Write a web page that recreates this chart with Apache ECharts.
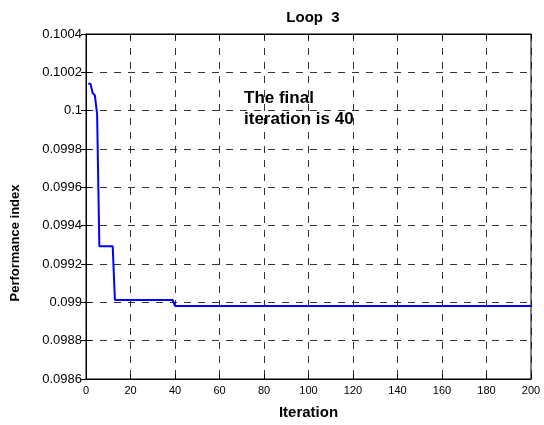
<!DOCTYPE html>
<html>
<head>
<meta charset="utf-8">
<script src="https://cdn.jsdelivr.net/npm/echarts@6/dist/echarts.min.js"></script>
<style>html,body{margin:0;padding:0;background:#fff}#c{width:544px;height:425px}</style>
</head>
<body>
<div id="c"></div>
<script>
var titleText = 'Loop  3';
var xLabel = 'Iteration';
var yLabel = 'Performance index';
var noteText = 'The final\niteration is 40';
var iterations = [1, 2, 3, 4, 5, 6, 12, 13, 39, 40, 200];
var values = [0.100141, 0.100141, 0.100092, 0.100080, 0.099980, 0.099293, 0.099293, 0.099012, 0.099012, 0.098981, 0.098981];
var xTicks = [0, 20, 40, 60, 80, 100, 120, 140, 160, 180, 200];
var yTicks = [0.0986, 0.0988, 0.099, 0.0992, 0.0994, 0.0996, 0.0998, 0.1, 0.1002, 0.1004];

var pts = iterations.map(function (x, i) { return [x, values[i]]; });
var fontF = 'Liberation Sans, Arial, sans-serif';
var gridStyle = { show: true, lineStyle: { color: '#111', type: [7, 7], width: 1, opacity: 0.85 } };
function fmtY(v) {
  var r = Math.round(v * 10000) / 10000;
  return String(r);
}
var chart = echarts.init(document.getElementById('c'));
chart.setOption({
  animation: false,
  backgroundColor: '#fff',
  title: { text: titleText, left: 308, textAlign: 'center', top: 5,
    textStyle: { fontFamily: fontF, fontSize: 15, fontWeight: 'bold', color: '#000' } },
  grid: { left: 86, right: 13, top: 34, bottom: 41, show: true, borderColor: '#000', borderWidth: 1 },
  xAxis: [{
    type: 'value', min: xTicks[0], max: xTicks[xTicks.length - 1], interval: 20,
    name: xLabel, nameLocation: 'middle', nameGap: 26,
    nameTextStyle: { fontFamily: fontF, fontSize: 15, fontWeight: 'bold', color: '#000' },
    axisLine: { show: true, lineStyle: { color: '#000' } },
    axisTick: { show: true, inside: true, length: 5, lineStyle: { color: '#000' } },
    axisLabel: { fontFamily: fontF, fontSize: 11, color: '#000', margin: 6 },
    splitLine: gridStyle
  }, {
    type: 'value', min: xTicks[0], max: xTicks[xTicks.length - 1], interval: 20, position: 'top',
    axisLine: { show: true, lineStyle: { color: '#000' } },
    axisTick: { show: true, inside: true, length: 5, lineStyle: { color: '#000' } },
    axisLabel: { show: false }, splitLine: { show: false }
  }],
  yAxis: [{
    type: 'value', min: yTicks[0], max: yTicks[yTicks.length - 1], interval: 0.0002,
    axisLine: { show: true, lineStyle: { color: '#000' } },
    axisTick: { show: true, inside: true, length: 5, lineStyle: { color: '#000' } },
    axisLabel: { fontFamily: fontF, fontSize: 13, color: '#000', margin: 4, formatter: fmtY },
    splitLine: gridStyle
  }, {
    type: 'value', min: yTicks[0], max: yTicks[yTicks.length - 1], interval: 0.0002, position: 'right',
    axisLine: { show: true, lineStyle: { color: '#000' } },
    axisTick: { show: true, inside: true, length: 5, lineStyle: { color: '#000' } },
    axisLabel: { show: false }, splitLine: { show: false }
  }],
  graphic: [{
    type: 'text', left: 244, top: 88,
    style: { text: noteText, fontFamily: fontF, fontSize: 17, fontWeight: 'bold', fill: '#000', lineHeight: 21 }
  }, {
    type: 'text', x: 15, y: 243, rotation: Math.PI / 2,
    style: { text: yLabel, fontFamily: fontF, fontSize: 13, fontWeight: 'bold', fill: '#000', align: 'center', verticalAlign: 'middle' }
  }],
  series: [{
    type: 'line', data: pts, xAxisIndex: 0, yAxisIndex: 0,
    showSymbol: false, symbol: 'none',
    lineStyle: { color: '#0000ff', width: 2 }
  }]
});
</script>
</body>
</html>
